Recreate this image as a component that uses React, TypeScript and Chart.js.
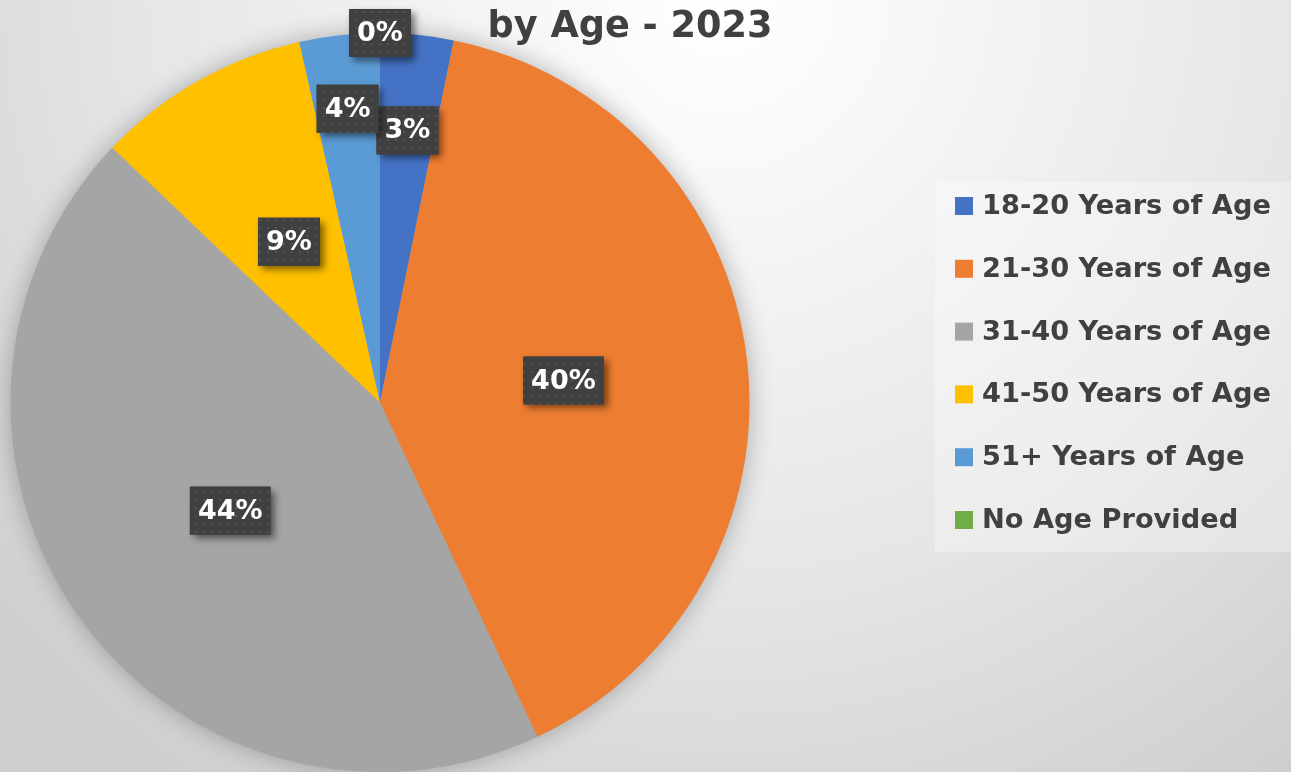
import React, { useEffect, useRef } from "react";
import { Chart, registerables } from "chart.js";

Chart.register(...registerables);

const categories = [
  "18-20 Years of Age",
  "21-30 Years of Age",
  "31-40 Years of Age",
  "41-50 Years of Age",
  "51+ Years of Age",
  "No Age Provided",
];
const shares = [3.2, 39.8, 44.1, 9.4, 3.5, 0];
const colors = ["#4472C4", "#ED7D31", "#A5A5A5", "#FFC000", "#5B9BD5", "#70AD47"];
const titleText = "by Age - 2023";

const labelRadiusFactor = [0.74, 0.5, 0.5, 0.5, 0.8, 1.0];
const FONT = '"DejaVu Sans", sans-serif';
const TEXT_COLOR = "#404040";

function fitFont(ctx: CanvasRenderingContext2D, text: string, width: number) {
  ctx.font = `bold 100px ${FONT}`;
  const w = ctx.measureText(text).width;
  return (100 * width) / w;
}

const bgPlugin = {
  id: "bgPlugin",
  beforeDraw(chart: any) {
    const { ctx, width, height } = chart;
    const g = ctx.createRadialGradient(720, 0, 0, 720, 0, 960);
    g.addColorStop(0, "#ffffff");
    g.addColorStop(0.18, "#f8f8f8");
    g.addColorStop(0.6, "#e6e6e6");
    g.addColorStop(1, "#cecece");
    ctx.save();
    ctx.fillStyle = g;
    ctx.fillRect(0, 0, width, height);
    ctx.restore();
  },
  beforeDatasetsDraw(chart: any) {
    const meta = chart.getDatasetMeta(0);
    const arc = meta.data[0];
    if (!arc) return;
    const { ctx } = chart;
    ctx.save();
    ctx.shadowColor = "rgba(0,0,0,0.3)";
    ctx.shadowBlur = 26;
    ctx.fillStyle = "#a5a5a5";
    ctx.beginPath();
    ctx.arc(arc.x, arc.y, arc.outerRadius - 1, 0, Math.PI * 2);
    ctx.fill();
    ctx.restore();
  },
};

let dotPattern: CanvasPattern | null = null;
function getPattern(ctx: CanvasRenderingContext2D) {
  if (dotPattern) return dotPattern;
  const c = document.createElement("canvas");
  c.width = 8;
  c.height = 8;
  const p = c.getContext("2d")!;
  p.fillStyle = "#404040";
  p.fillRect(0, 0, 8, 8);
  p.fillStyle = "#535353";
  p.fillRect(3, 3, 2, 2);
  dotPattern = ctx.createPattern(c, "repeat");
  return dotPattern;
}

const labelPlugin = {
  id: "labelPlugin",
  afterDatasetsDraw(chart: any) {
    const { ctx } = chart;
    const meta = chart.getDatasetMeta(0);
    const data = chart.data.datasets[0].data as number[];
    const total = data.reduce((a, b) => a + b, 0);
    meta.data.forEach((arc: any, i: number) => {
      const mid = (arc.startAngle + arc.endAngle) / 2;
      const r = arc.outerRadius * labelRadiusFactor[i];
      const x = arc.x + Math.cos(mid) * r;
      const y = arc.y + Math.sin(mid) * r;
      const text = Math.round((data[i] / total) * 100) + "%";
      ctx.save();
      ctx.font = `bold 27px ${FONT}`;
      const tw = ctx.measureText(text).width;
      const bw = tw + 16;
      const bh = 48;
      ctx.shadowColor = "rgba(0,0,0,0.5)";
      ctx.shadowBlur = 7;
      ctx.shadowOffsetX = 4;
      ctx.shadowOffsetY = 4;
      ctx.fillStyle = "#404040";
      ctx.fillRect(x - bw / 2, y - bh / 2, bw, bh);
      ctx.shadowColor = "transparent";
      ctx.fillStyle = getPattern(ctx) || "#404040";
      ctx.fillRect(x - bw / 2, y - bh / 2, bw, bh);
      ctx.fillStyle = "#ffffff";
      ctx.textAlign = "center";
      ctx.textBaseline = "middle";
      ctx.fillText(text, x, y + 1);
      ctx.restore();
    });
  },
  afterDraw(chart: any) {
    const { ctx } = chart;
    // Title
    ctx.save();
    const ts = fitFont(ctx, titleText, 285);
    ctx.font = `bold ${ts}px ${FONT}`;
    ctx.fillStyle = TEXT_COLOR;
    ctx.textAlign = "center";
    ctx.textBaseline = "alphabetic";
    ctx.fillText(titleText, 630, 37);
    ctx.restore();

    // Legend
    ctx.save();
    ctx.fillStyle = "rgba(255,255,255,0.3)";
    ctx.fillRect(935, 182, 356, 370);
    const labels = chart.data.labels as string[];
    const bg = chart.data.datasets[0].backgroundColor as string[];
    const ls = fitFont(ctx, labels[0], 289);
    ctx.font = `bold ${ls}px ${FONT}`;
    ctx.textBaseline = "middle";
    ctx.textAlign = "left";
    labels.forEach((lab, i) => {
      const cy = 206 + i * 62.8;
      ctx.fillStyle = bg[i];
      ctx.fillRect(955, cy - 9, 18, 18);
      ctx.fillStyle = TEXT_COLOR;
      ctx.fillText(lab, 982, cy + 1);
    });
    ctx.restore();
  },
};

export default function App() {
  const ref = useRef<HTMLCanvasElement>(null);
  useEffect(() => {
    document.body.style.margin = "0";
    const canvas = ref.current!;
    const chart = new Chart(canvas, {
      type: "pie",
      data: {
        labels: categories,
        datasets: [
          {
            data: shares,
            backgroundColor: colors,
            borderWidth: 0,
          },
        ],
      },
      options: {
        responsive: false,
        animation: false,
        layout: { padding: { left: 10, right: 541, top: 33, bottom: 0 } },
        plugins: {
          legend: { display: false },
          title: { display: false },
          tooltip: { enabled: false },
        },
      },
      plugins: [bgPlugin, labelPlugin],
    });
    return () => chart.destroy();
  }, []);
  return (
    <div style={{ width: 1291, height: 772, overflow: "hidden" }}>
      <canvas ref={ref} width={1291} height={772} style={{ display: "block" }} />
    </div>
  );
}
